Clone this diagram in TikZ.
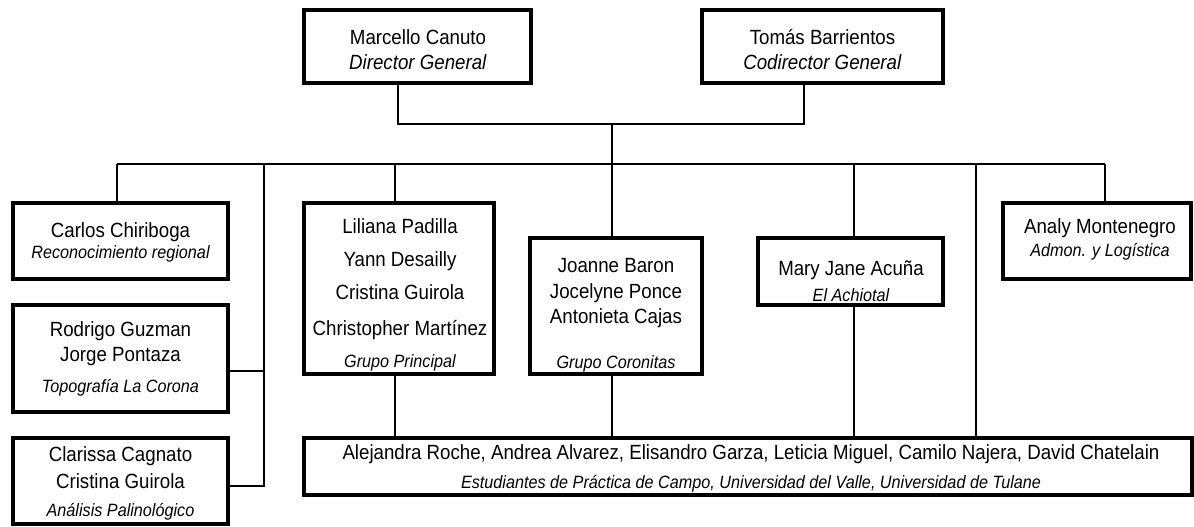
\documentclass[tikz,border=0pt]{standalone}
\usepackage{fontspec}
\setmainfont{Liberation Sans}
\usetikzlibrary{positioning}

\newcommand{\role}[1]{{\fontsize{16.2}{19}\selectfont\itshape #1}}

\tikzset{
  frame/.style={draw, line width=3.2pt, rectangle, inner sep=0pt},
  entry/.style={align=center, inner sep=0pt, font=\fontsize{18.7}{20}\selectfont,
    yscale=1.1, transform shape},
  wire/.style={draw, line width=1.4pt}
}

\begin{document}
\begin{tikzpicture}[x=1pt, y=-1pt]
\useasboundingbox (0,0) rectangle (1194,527);

% direccion
\node[frame, minimum width=227pt, minimum height=73pt] (canuto) at (417.5,46.5) {};
\node[entry] (canuto-t) at (418,49.5) {Marcello Canuto\\[3pt] \textit{Director General}};
\node[frame, minimum width=241pt, minimum height=73pt] (tomas) at (822.5,46.5) {};
\node[entry] (tomas-t) at (822.5,49.5) {Tomás Barrientos\\[3pt] \textit{Codirector General}};

% columna izquierda
\node[frame, minimum width=215pt, minimum height=76pt] (carlos) at (120.5,241) {};
\node[entry] (carlos-t) at (120.5,242.5) {Carlos Chiriboga\\[-1pt] \role{Reconocimiento regional}};
\node[frame, minimum width=215pt, minimum height=107pt] (rodrigo) at (120.5,358.5) {};
\node[entry] (rodrigo-t) at (120.5,359) {Rodrigo Guzman\\[3pt] Jorge Pontaza\\[8pt] \role{Topografía La Corona}};
\node[frame, minimum width=215pt, minimum height=86pt] (clarissa) at (120.5,481) {};
\node[entry] (clarissa-t) at (120.5,483) {Clarissa Cagnato\\[5pt] Cristina Guirola\\[5pt] \role{Análisis Palinológico}};

% grupos
\node[frame, minimum width=190pt, minimum height=171pt] (liliana) at (399,288.5) {};
\node[entry] (liliana-t) at (400,294.5) {Liliana Padilla\\[10pt] Yann Desailly\\[10pt] Cristina Guirola\\[13pt] Christopher Martínez\\[9pt] \role{Grupo Principal}};
\node[frame, minimum width=172pt, minimum height=136pt] (joanne) at (616,306) {};
\node[entry] (joanne-t) at (616,315.5) {Joanne Baron\\[3pt] Jocelyne Ponce\\[3pt] Antonieta Cajas\\[21pt] \role{Grupo Coronitas}};
\node[frame, minimum width=185pt, minimum height=67pt] (mary) at (850.5,271.5) {};
\node[entry] (mary-t) at (851,281) {Mary Jane Acuña\\[4pt] \role{El Achiotal}};
\node[frame, minimum width=188pt, minimum height=76pt] (analy) at (1097,241) {};
\node[entry] (analy-t) at (1100,239.5) {Analy Montenegro\\[1pt] \role{Admon. y Logística}};

% estudiantes
\node[frame, minimum width=888pt, minimum height=57pt] (students) at (748,466.5) {};
\node[entry] (students-t) at (751,468.5) {Alejandra Roche, Andrea Alvarez, Elisandro Garza, Leticia Miguel, Camilo Najera, David Chatelain\\[6pt] \role{Estudiantes de Práctica de Campo, Universidad del Valle, Universidad de Tulane}};

% conexiones
\coordinate (jl) at (398,124);
\coordinate (jr) at (804,124);
\coordinate (hub) at (612,124);
\coordinate (busW) at (117,164);
\coordinate (busE) at (1105,164);
\coordinate (side) at (264,164);
\coordinate (d3) at (395,164);
\coordinate (d4) at (612,164);
\coordinate (d5) at (854,164);
\coordinate (d6) at (976,164);
\coordinate (stubR) at ([yshift=-12.5pt]rodrigo.east);
\coordinate (stubC) at ([yshift=-5pt]clarissa.east);

\draw[wire] (jl |- canuto.south) -- (jl) -- (jr) -- (jr |- tomas.south);
\draw[wire] (hub) -- (d4);
\draw[wire] (busW) -- (busE);
\draw[wire] (busW) -- (busW |- carlos.north);
\draw[wire] (side) |- (stubC);
\draw[wire] (stubR) -- (side |- stubR);
\draw[wire] (d3) -- (d3 |- liliana.north);
\draw[wire] (d3 |- liliana.south) -- (d3 |- students.north);
\draw[wire] (d4) -- (d4 |- joanne.north);
\draw[wire] (d4 |- joanne.south) -- (d4 |- students.north);
\draw[wire] (d5) -- (d5 |- mary.north);
\draw[wire] (d5 |- mary.south) -- (d5 |- students.north);
\draw[wire] (d6) -- (d6 |- students.north);
\draw[wire] (busE) -- (busE |- analy.north);
\end{tikzpicture}
\end{document}
